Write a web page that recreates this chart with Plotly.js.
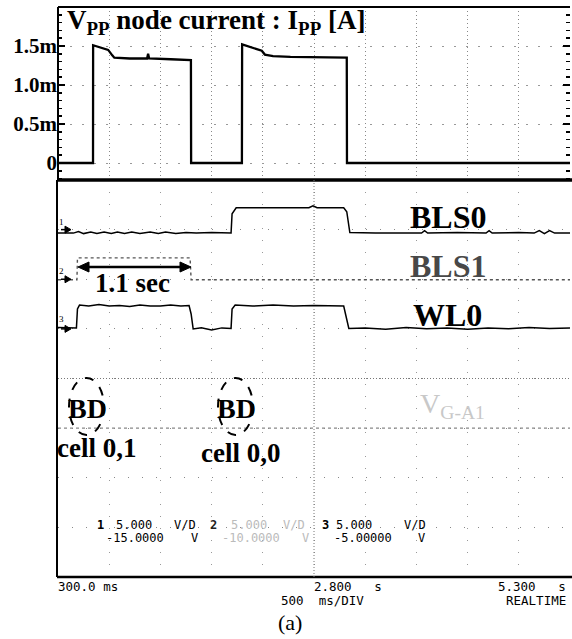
<!DOCTYPE html>
<html><head><meta charset="utf-8">
<script src="https://cdn.plot.ly/plotly-3.0.1.min.js"></script>
<style>html,body{margin:0;padding:0;background:#fff}#g{width:572px;height:639px}</style>
</head><body><div id="g"></div>
<script>
// ---- data ----
// top panel: V_PP node current (time in s, current in mA)
const curTime = [0.30,0.642,0.643,0.71,0.79,0.83,0.85,1.00,1.17,1.18,1.19,1.40,1.598,1.600,2.096,2.098,2.175,2.25,2.29,2.32,2.40,2.57,3.12,3.122,5.30];
const curMA   = [0,0,1.51,1.48,1.45,1.38,1.35,1.34,1.34,1.40,1.34,1.33,1.32,0,0,1.52,1.49,1.46,1.44,1.39,1.37,1.36,1.35,0,0];
const curTickVals = [0,0.5,1.0,1.5];
const curTickText = ['0','0.5m','1.0m','1.5m'];
// scope channels (volts); 5 V/div, channel offsets
const voltsPerDiv = 5;
const chOffset = [-15,-10,-5,5];
const bls0Time = [0.30,0.45,0.50,0.55,0.62,0.68,0.75,0.82,0.88,0.95,1.02,1.10,1.20,1.28,1.35,1.45,1.55,1.65,1.80,1.99,2.00,2.04,2.40,2.75,2.79,2.83,3.09,3.12,3.15,3.40,3.85,3.88,3.91,4.20,4.48,4.51,4.54,4.80,4.95,5.00,5.05,5.10,5.15,5.30];
const bls0V    = [-0.35,-0.35,-0.2,-0.4,-0.25,-0.4,-0.25,-0.4,-0.25,-0.4,-0.25,-0.4,-0.25,-0.4,-0.25,-0.4,-0.3,-0.35,-0.3,-0.35,1.6,2.2,2.2,2.2,2.4,2.2,2.2,1.8,-0.3,-0.35,-0.35,-0.1,-0.35,-0.3,-0.35,-0.1,-0.35,-0.3,-0.35,-0.1,-0.4,-0.1,-0.35,-0.35];
const bls1Time = [0.30,0.485,0.49,1.59,1.60,5.30];
const bls1V    = [-0.05,-0.05,2.15,2.15,-0.05,-0.05];
const wl0Time  = [0.30,0.40,0.48,0.49,0.51,0.60,0.70,0.80,0.90,1.00,1.10,1.20,1.30,1.40,1.50,1.58,1.60,1.62,1.70,1.80,1.90,1.99,2.00,2.03,2.20,2.40,2.60,2.80,3.00,3.09,3.11,3.14,3.30,3.50,3.70,3.90,4.10,4.30,4.50,4.70,4.90,5.10,5.30];
const wl0V     = [0.15,0.10,0.10,2.0,2.4,2.3,2.45,2.3,2.35,2.25,2.4,2.3,2.3,2.4,2.3,2.35,1.5,0.0,0.1,-0.1,0.1,0.05,2.0,2.4,2.3,2.4,2.3,2.35,2.3,2.3,1.4,0.05,0.1,-0.05,0.15,0.0,0.1,-0.05,0.1,0.0,0.15,0.05,0.1];
const vgaTime  = [0.30,5.30];
const vgaV     = [0,0];
const traceLabels = ['BLS0','BLS1','WL0'];

// ---- helpers ----
const toDiv = (arr, ch) => arr.map(v => (v - chOffset[ch]) / voltsPerDiv);
const PX = x => (x - 58) / 512;
const PY = y => (577 - y) / 570;
const SERIF = 'Liberation Serif, Times New Roman, serif';
const MONO = 'DejaVu Sans Mono, monospace';
function ann(text, x, y, size, o) {
  o = o || {};
  return Object.assign({text: text, xref:'paper', yref:'paper', x: PX(x), y: PY(y),
    showarrow:false, xanchor:'center', yanchor:'middle',
    font:{family: o.family || SERIF, size: size, color: o.color || '#000'}}, o.extra || {});
}

const data = [
  {x: curTime, y: curMA, xaxis:'x2', yaxis:'y2', mode:'lines', line:{color:'#000', width:2.3}, hoverinfo:'skip'},
  {x: bls0Time, y: toDiv(bls0V,0), xaxis:'x', yaxis:'y', mode:'lines', line:{color:'#000', width:1.5}},
  {x: bls1Time, y: toDiv(bls1V,1), xaxis:'x', yaxis:'y', mode:'lines', line:{color:'#555', width:1.4, dash:'dot'}},
  {x: wl0Time, y: toDiv(wl0V,2), xaxis:'x', yaxis:'y', mode:'lines', line:{color:'#000', width:1.5}},
  {x: vgaTime, y: toDiv(vgaV,3), xaxis:'x', yaxis:'y', mode:'lines', line:{color:'#888', width:1.2, dash:'dot'}}
];

const split = (577 - 180) / 570;
const frameLine = (x0,y0,x1,y1,w) => ({type:'line', xref:'paper', yref:'paper', x0:PX(x0), y0:PY(y0), x1:PX(x1), y1:PY(y1), line:{color:'#000', width:w}});
const tri = (pts) => ({type:'path', xref:'paper', yref:'paper',
  path:'M' + pts.map(p => PX(p[0]) + ',' + PY(p[1])).join(' L') + ' Z', fillcolor:'#000', line:{color:'#000', width:1}});

const shapes = [
  frameLine(58,7,570,7,2),
  frameLine(58,7,58,180,2),
  frameLine(58,180,572,180,3.5),
  frameLine(57,180,57,577,2),
  frameLine(57,577,572,577,2.5),
  {type:'line', xref:'x', yref:'y', x0:2.8, x1:2.8, y0:-4, y1:4, line:{color:'#777', width:1, dash:'1px,2px'}},
  {type:'line', xref:'x', yref:'y', x0:0.3, x1:5.3, y0:0, y1:0, line:{color:'#777', width:1, dash:'1px,2px'}},
  {type:'circle', xref:'paper', yref:'paper', x0:PX(69), x1:PX(104), y0:PY(435), y1:PY(378), line:{color:'#000', width:2, dash:'dash'}},
  {type:'circle', xref:'paper', yref:'paper', x0:PX(218), x1:PX(253), y0:PY(435), y1:PY(378), line:{color:'#000', width:2, dash:'dash'}},
  // 1.1 sec double arrow
  frameLine(84,267,185,267,2.5),
  tri([[78,267],[89,262],[89,272]]),
  tri([[191,267],[180,262],[180,272]])
];
// ground markers for channels 1-3, placed from the channel offsets
for (let ch = 0; ch < 3; ch++) {
  const yPix = 378.5 - (-chOffset[ch] / voltsPerDiv) * 49.625;
  shapes.push(frameLine(61, yPix, 66, yPix, 1.5));
  shapes.push(tri([[71, yPix], [65, yPix - 3.5], [65, yPix + 3.5]]));
}

const annotations = [
  ann('<b>V<sub>PP</sub> node current : I<sub>PP</sub> [A]</b>', 65, 22, 27, {extra:{xanchor:'left'}}),
  ann('<b>'+traceLabels[0]+'</b>', 448, 217, 32),
  ann('<b>'+traceLabels[1]+'</b>', 448, 266, 32, {color:'#484848'}),
  ann('<b>'+traceLabels[2]+'</b>', 447, 315, 32),
  ann('<b>1.1 sec</b>', 132, 283, 27),
  ann('<b>BD</b>', 87, 408, 28),
  ann('<b>BD</b>', 236, 408, 28),
  ann('<b>cell 0,1</b>', 96, 448, 27),
  ann('<b>cell 0,0</b>', 240, 453, 27),
  ann('V<sub>G-A1</sub>', 452, 405, 28, {color:'#c8c8c8'}),
  ann('1', 61, 222, 9), ann('2', 61, 271, 9), ann('3', 61, 319, 9),
  // scope readouts
  ann('<b>1</b>', 95, 525, 12, {family:MONO, extra:{xanchor:'left'}}),
  ann('5.000', 114, 525, 12, {family:MONO, extra:{xanchor:'left'}}),
  ann('V/D', 172, 525, 12, {family:MONO, extra:{xanchor:'left'}}),
  ann('-15.0000', 104, 538, 12, {family:MONO, extra:{xanchor:'left'}}),
  ann('V', 189, 538, 12, {family:MONO, extra:{xanchor:'left'}}),
  ann('<b>2</b>', 208, 525, 12, {family:MONO, color:'#222', extra:{xanchor:'left'}}),
  ann('5.000', 229, 525, 12, {family:MONO, color:'#bbb', extra:{xanchor:'left'}}),
  ann('V/D', 281, 525, 12, {family:MONO, color:'#bbb', extra:{xanchor:'left'}}),
  ann('-10.0000', 220, 538, 12, {family:MONO, color:'#bbb', extra:{xanchor:'left'}}),
  ann('V', 300, 538, 12, {family:MONO, color:'#bbb', extra:{xanchor:'left'}}),
  ann('<b>3</b>', 320, 525, 12, {family:MONO, extra:{xanchor:'left'}}),
  ann('5.000', 334, 525, 12, {family:MONO, extra:{xanchor:'left'}}),
  ann('V/D', 402, 525, 12, {family:MONO, extra:{xanchor:'left'}}),
  ann('-5.00000', 332, 538, 12, {family:MONO, extra:{xanchor:'left'}}),
  ann('V', 416, 538, 12, {family:MONO, extra:{xanchor:'left'}}),
  // time readouts
  ann('300.0 ms', 56, 586, 12.5, {family:MONO, extra:{xanchor:'left'}}),
  ann('2.800   s', 312, 586, 12.5, {family:MONO, extra:{xanchor:'left'}}),
  ann('500  ms/DIV', 279, 600, 12.5, {family:MONO, extra:{xanchor:'left'}}),
  ann('5.300   s', 568, 586, 12.5, {family:MONO, extra:{xanchor:'right'}}),
  ann('REALTIME', 568, 600, 12.5, {family:MONO, extra:{xanchor:'right'}}),
  ann('(a)', 290, 622, 22)
];

const layout = {
  width:572, height:639, margin:{l:58, r:2, t:7, b:62},
  paper_bgcolor:'#fff', plot_bgcolor:'#fff', showlegend:false,
  xaxis:{domain:[0,1], range:[0.3,5.3], anchor:'y', tick0:0.3, dtick:0.5, showgrid:true, gridcolor:'#999', gridwidth:1, griddash:'1px,11px', showticklabels:false, ticks:'', zeroline:false, showline:false},
  xaxis2:{domain:[0,1], matches:'x', anchor:'y2', tick0:0.3, dtick:0.5, showgrid:true, gridcolor:'#888', gridwidth:1, griddash:'1px,3px', showticklabels:false, ticks:'', zeroline:false, showline:false},
  yaxis:{domain:[0,split], range:[-4,4], tick0:0, dtick:1, showgrid:true, gridcolor:'#888', gridwidth:1, griddash:'1px,13px', showticklabels:false, ticks:'', zeroline:false, showline:false},
  yaxis2:{domain:[split,1], range:[-0.218,2.0], anchor:'x2', tickvals:curTickVals, ticktext:curTickText.map(t=>'<b>'+t+'</b>'),
    tickfont:{family:SERIF, size:21, color:'#000'}, ticks:'inside', ticklen:7, tickwidth:2, tickcolor:'#000', mirror:'ticks',
    minor:{dtick:0.1, tick0:0, ticks:'inside', ticklen:4, tickwidth:1.5, tickcolor:'#000', showgrid:false},
    showgrid:true, gridcolor:'#999', gridwidth:1, griddash:'2px,10px', zeroline:false, showline:false},
  shapes: shapes,
  annotations: annotations
};
Plotly.newPlot('g', data, layout, {staticPlot:true, displayModeBar:false});
</script>
</body></html>
